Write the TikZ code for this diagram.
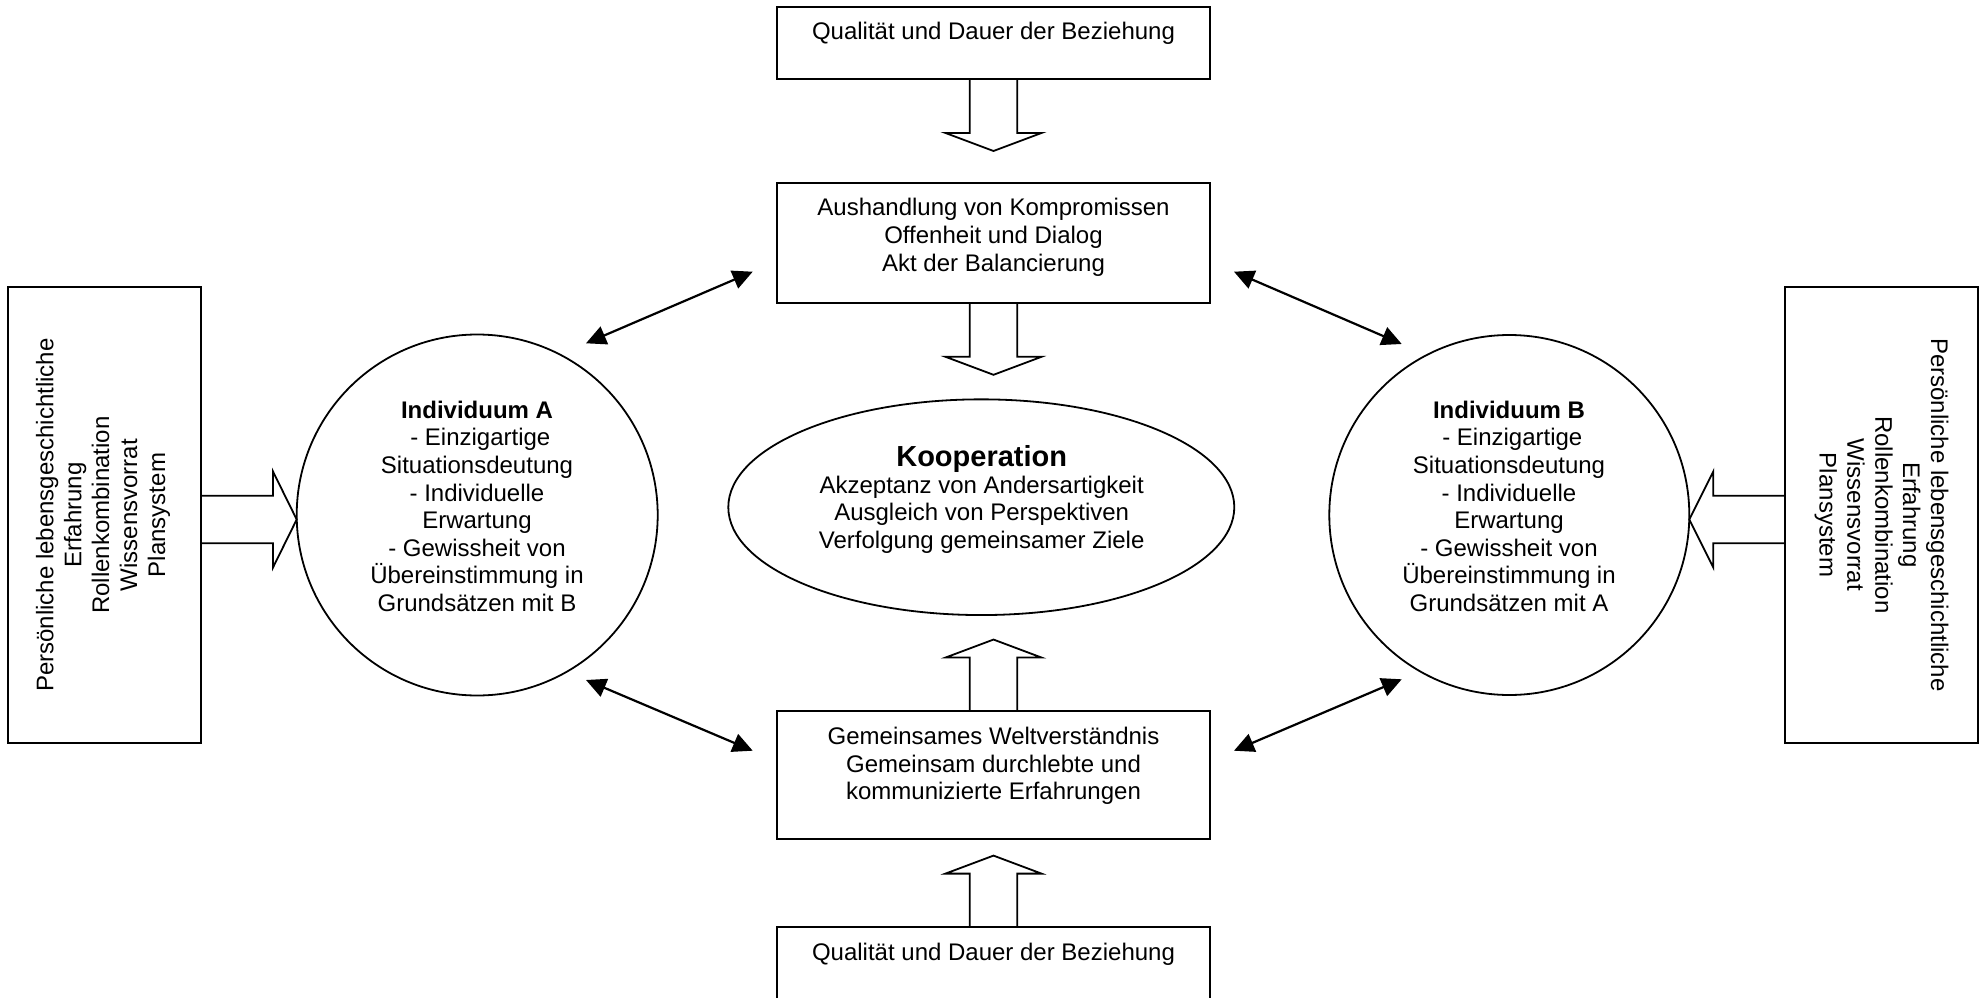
\documentclass[tikz,border=0pt]{standalone}
\usepackage{fontspec}
\setmainfont{Liberation Sans}
\usetikzlibrary{shapes.geometric,arrows.meta,calc}
\tikzset{
  box/.style={draw, line width=2.2pt, inner sep=0pt, outer sep=0pt},
  roundshape/.style={draw, line width=1.8pt, inner sep=0pt, outer sep=0pt},
  txt/.style={inner sep=0pt, outer sep=0pt, align=center, font=\fontsize{24}{27.6}\selectfont},
  blk/.style={line width=1.8pt, line join=miter},
  conn/.style={line width=2.2pt, {Triangle[length=20pt,width=19pt]}-{Triangle[length=20pt,width=19pt]}},
  pics/barrow/.style 2 args={code={
    \draw[blk] (0,-23.8) -- (#1,-23.8) -- (#1,-48) -- (#1+#2,0) -- (#1,48) -- (#1,23.8) -- (0,23.8);
  }}
}
\begin{document}
\begin{tikzpicture}[x=1pt,y=-1pt]
\useasboundingbox (0,0) rectangle (1984,998);
\fill[white] (0,0) rectangle (1984,998);
\clip (0,0) rectangle (1984,998);

% top and bottom boxes
\node[box, minimum width=433.3, minimum height=72] (q1) at (993.5,43.3) {};
\node[txt, anchor=base] (q1t) at (993.5,40) {Qualität und Dauer der Beziehung};

\node[box, minimum width=433.3, minimum height=120.6] (aus) at (993.5,243) {};
\node[txt, font=\fontsize{24}{28.3}\selectfont] (aust) at (993.5,237.3)
  {Aushandlung von Kompromissen\\Offenheit und Dialog\\Akt der Balancierung};

\node[roundshape, ellipse, minimum width=506, minimum height=215.7] (koop) at (981.3,507.2) {};
\node[txt, font=\fontsize{24}{27.4}\selectfont] (koopt) at (981.7,499.25)
  {{\fontsize{29}{27.4}\selectfont\bfseries Kooperation}\\Akzeptanz von Andersartigkeit\\Ausgleich von Perspektiven\\Verfolgung gemeinsamer Ziele};

\node[box, minimum width=433.3, minimum height=128.3] (gem) at (993.5,775.2) {};
\node[txt, font=\fontsize{24}{27.5}\selectfont] (gemt) at (993.5,766.25)
  {Gemeinsames Weltverständnis\\Gemeinsam durchlebte und\\kommunizierte Erfahrungen};

\node[box, minimum width=433.3, minimum height=150] (q2) at (993.5,1002.3) {};
\node[txt, anchor=base] (q2t) at (993.5,960.7) {Qualität und Dauer der Beziehung};

% individuals
\node[roundshape, circle, minimum size=361] (indA) at (477.2,515) {};
\node[txt] (indAt) at (477,506.4)
  {\textbf{Individuum A}\\\ - Einzigartige\\Situationsdeutung\\- Individuelle\\Erwartung\\- Gewissheit von\\Übereinstimmung in\\Grundsätzen mit B};

\node[roundshape, circle, minimum size=360] (indB) at (1509.3,515) {};
\node[txt] (indBt) at (1509,506.4)
  {\textbf{Individuum B}\\\ - Einzigartige\\Situationsdeutung\\- Individuelle\\Erwartung\\- Gewissheit von\\Übereinstimmung in\\Grundsätzen mit A};

% side boxes
\node[box, minimum width=192.7, minimum height=456.6] (lifeA) at (104.65,515) {};
\node[txt, rotate=90, font=\fontsize{24}{27.9}\selectfont] (lifeAt) at (103,515)
  {Persönliche lebensgeschichtliche\\Erfahrung\\Rollenkombination\\Wissensvorrat\\Plansystem};

\node[box, minimum width=193.3, minimum height=455.4] (lifeB) at (1881.65,515) {};
\node[txt, rotate=-90, font=\fontsize{24}{27.9}\selectfont] (lifeBt) at (1881.5,515)
  {Persönliche lebensgeschichtliche\\Erfahrung\\Rollenkombination\\Wissensvorrat\\Plansystem};

% block arrows
\pic[rotate=-90] at (q1.south) {barrow={53.7}{18}};
\pic[rotate=-90] at (aus.south) {barrow={53.5}{18}};
\pic[rotate=90] at (gem.north) {barrow={53.5}{18}};
\pic[rotate=90] at (q2.north) {barrow={53.7}{18}};
\pic at ($(lifeA.east)+(0,4.5)$) {barrow={72}{23.7}};
\pic[rotate=180] at ($(lifeB.west)+(0,4.5)$) {barrow={71.7}{24}};

% double-headed connectors
\coordinate (tlA) at (586,343.3);   \coordinate (tlB) at (752.7,271.7);
\coordinate (trA) at (1234,271.7);  \coordinate (trB) at (1401.7,344);
\coordinate (blA) at (586,680);     \coordinate (blB) at (752.7,750.7);
\coordinate (brA) at (1234,750.7);  \coordinate (brB) at (1401.7,679.3);
\draw[conn] (tlA) -- (tlB);
\draw[conn] (trA) -- (trB);
\draw[conn] (blA) -- (blB);
\draw[conn] (brA) -- (brB);
\end{tikzpicture}
\end{document}
